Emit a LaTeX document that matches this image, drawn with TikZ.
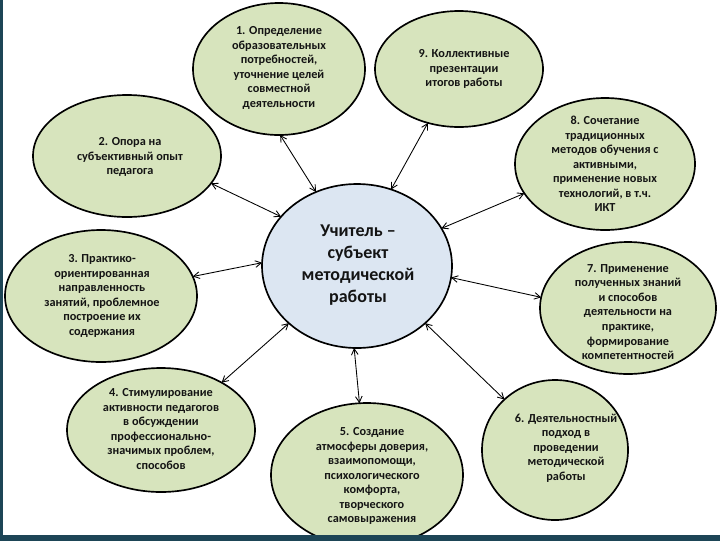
\documentclass[tikz,border=0pt]{standalone}
\usepackage{fontspec}
\setmainfont{Carlito}
\usetikzlibrary{arrows.meta,shapes.geometric,backgrounds}
\definecolor{bubfill}{HTML}{D7E4BD}
\definecolor{cfill}{HTML}{DCE6F2}
\definecolor{linkblue}{HTML}{4F7FB0}
\definecolor{barteal}{HTML}{1D4556}
\definecolor{txtcol}{HTML}{141414}
\begin{document}
\begin{tikzpicture}[x=0.75pt,y=-0.75pt,
  bub/.style={ellipse,draw=black,line width=1.25pt,fill=bubfill,inner sep=0pt,outer sep=0pt},
  cbub/.style={ellipse,draw=black,line width=1.25pt,fill=cfill,inner sep=0pt,outer sep=0pt},
  btxt/.style={align=center,inner sep=0pt,text=txtcol,font=\fontsize{9.2}{10.9}\selectfont\bfseries},
  ctxt/.style={align=center,inner sep=0pt,text=txtcol,font=\fontsize{13.5}{16.5}\selectfont\bfseries},
  link/.style={draw=linkblue,line width=0.8pt},
  arr/.style={<->,>={Straight Barb[length=4.5pt,width=5pt]},line width=0.65pt,draw=black}]
\useasboundingbox (0,0) rectangle (720,540);
\clip (0,0) rectangle (720,540);
\fill[white] (0,0) rectangle (720,540);
% bubbles
\node[bub,minimum width=129pt,minimum height=99pt] (e1) at (279,69) {};
\node[bub,minimum width=141pt,minimum height=91.5pt] (e2) at (127,156) {};
\node[bub,minimum width=144pt,minimum height=99pt] (e3) at (101,296) {};
\node[bub,minimum width=141pt,minimum height=93pt] (e4) at (161,430) {};
\node[bub,minimum width=144pt,minimum height=108pt] (e5) at (367,475) {};
\node[bub,minimum width=109.5pt,minimum height=105pt] (e6) at (555,450) {};
\node[bub,minimum width=132pt,minimum height=99pt] (e7) at (628,308) {};
\node[bub,minimum width=135pt,minimum height=99pt] (e8) at (605,164) {};
\node[bub,minimum width=126pt,minimum height=87pt] (e9) at (459,69) {};
\node[cbub,minimum width=142.5pt,minimum height=123pt] (c) at (357,266) {};
% links between neighbours
\begin{scope}[on background layer]
\draw[link] (e1.185) -- (e2.56);
\draw[link] (e1.22) -- (e9.156);
\draw[link] (e9.355) -- (e8.122);
\draw[link] (e8.290) -- (e7.89);
\draw[link] (e7.259) -- (e6.49);
\draw[link] (e6.195) -- (e5.3);
\draw[link] (e5.168) -- (e4.347);
\draw[link] (e4.134) -- (e3.269);
\draw[link] (e3.108) -- (e2.232);
\end{scope}
% texts
\node[btxt] (t1) at (279,68) {1. Определение\\образовательных\\потребностей,\\уточнение целей\\совместной\\деятельности};
\node[btxt] (t2) at (130,157) {2. Опора на\\субъективный опыт\\педагога};
\node[btxt] (t3) at (102,296) {3. Практико-\\ориентированная\\направленность\\занятий, проблемное\\построение их\\содержания};
\node[btxt] (t4) at (161,429) {4. Стимулирование\\активности педагогов\\в обсуждении\\профессионально-\\значимых проблем,\\способов};
\node[btxt] (t5) at (372,476) {5. Создание\\атмосферы доверия,\\взаимопомощи,\\психологического\\комфорта,\\творческого\\самовыражения};
\node[btxt] (t6) at (566,448) {6. Деятельностный\\подход в\\проведении\\методической\\работы};
\node[btxt] (t7) at (628,312) {7. Применение\\полученных знаний\\и способов\\деятельности на\\практике,\\формирование\\компетентностей};
\node[btxt] (t8) at (605,164) {8. Сочетание\\традиционных\\методов обучения с\\активными,\\применение новых\\технологий, в т.ч.\\ИКТ};
\node[btxt] (t9) at (464,69) {9. Коллективные\\презентации\\итогов работы};
\node[ctxt] (tc) at (358,265) {Учитель –\\субъект\\методической\\работы};
% arrows to centre
\draw[arr] (c.119) -- (e1.271);
\draw[arr] (c.147) -- (e2.342);
\draw[arr] (c.178) -- (e3.12);
\draw[arr] (c.220) -- (e4.38);
\draw[arr] (c.268) -- (e5.96);
\draw[arr] (c.320) -- (e6.135);
\draw[arr] (c.353) -- (e7.173);
\draw[arr] (c.24) -- (e8.200);
\draw[arr] (c.66) -- (e9.240);
% frame bars
\fill[barteal] (-10,-10) rectangle (3,560);
\fill[barteal] (-10,535) rectangle (730,560);
\end{tikzpicture}
\end{document}
